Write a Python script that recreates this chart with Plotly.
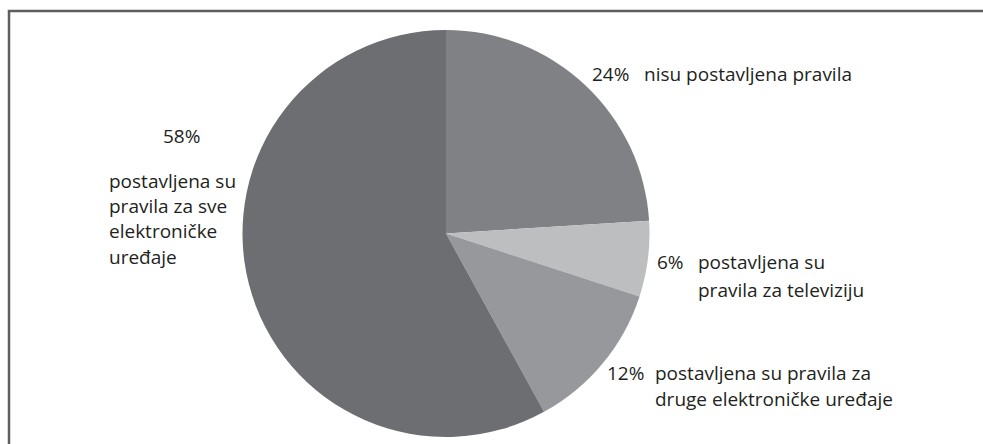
import plotly.graph_objects as go

W, H = 983, 444

categories = ["nisu postavljena pravila",
              "postavljena su pravila za televiziju",
              "postavljena su pravila za druge elektroničke uređaje",
              "postavljena su pravila za sve elektroničke uređaje"]
values = [24, 6, 12, 58]
pct_labels = ["24%", "6%", "12%", "58%"]
colors = ["#808185", "#bdbec0", "#97989b", "#6d6e71"]

# label text lines per slice
label_lines = [
    ["nisu postavljena pravila"],
    ["postavljena su", "pravila za televiziju"],
    ["postavljena su pravila za", "druge elektroničke uređaje"],
    ["postavljena su", "pravila za sve", "elektroničke", "uređaje"],
]

cx, cy, r = 446, 233.5, 203.5

fig = go.Figure(go.Pie(
    labels=categories, values=values, sort=False, direction="clockwise",
    rotation=0, textinfo="none", hoverinfo="label+percent",
    marker=dict(colors=colors, line=dict(width=0)),
    domain=dict(x=[(cx - r) / W, (cx + r) / W],
                y=[(H - cy - r) / H, (H - cy + r) / H]),
    showlegend=False,
))

font = dict(family="Open Sans", size=19, color="#231f20")

def px(x):
    return x / W

def py(y):
    return 1 - y / H

ann = []
# 24%
ann.append(dict(x=px(590), y=py(74), text=pct_labels[0], xanchor="left"))
ann.append(dict(x=px(642), y=py(74), text=label_lines[0][0], xanchor="left"))
# 6%
ann.append(dict(x=px(655), y=py(262), text=pct_labels[1], xanchor="left"))
for i, t in enumerate(label_lines[1]):
    ann.append(dict(x=px(696), y=py(262 + 28 * i), text=t, xanchor="left"))
# 12%
ann.append(dict(x=px(605), y=py(373), text=pct_labels[2], xanchor="left"))
for i, t in enumerate(label_lines[2]):
    ann.append(dict(x=px(653), y=py(373 + 26 * i), text=t, xanchor="left"))
# 58%
ann.append(dict(x=px(181.5), y=py(136), text=pct_labels[3], xanchor="center"))
for i, t in enumerate(label_lines[3]):
    ann.append(dict(x=px(107), y=py(180.5 + 25.5 * i), text=t, xanchor="left"))

for a in ann:
    a.update(xref="paper", yref="paper", yanchor="middle", showarrow=False,
             font=font)

fig.update_layout(
    width=W, height=H, margin=dict(l=0, r=0, t=0, b=0),
    paper_bgcolor="white", plot_bgcolor="white",
    annotations=ann,
    shapes=[dict(type="rect", xref="paper", yref="paper",
                 x0=px(9), x1=1.05, y0=-0.05, y1=py(11),
                 line=dict(color="#5e5e5e", width=2.5))],
)

fig.write_html("out.html")
